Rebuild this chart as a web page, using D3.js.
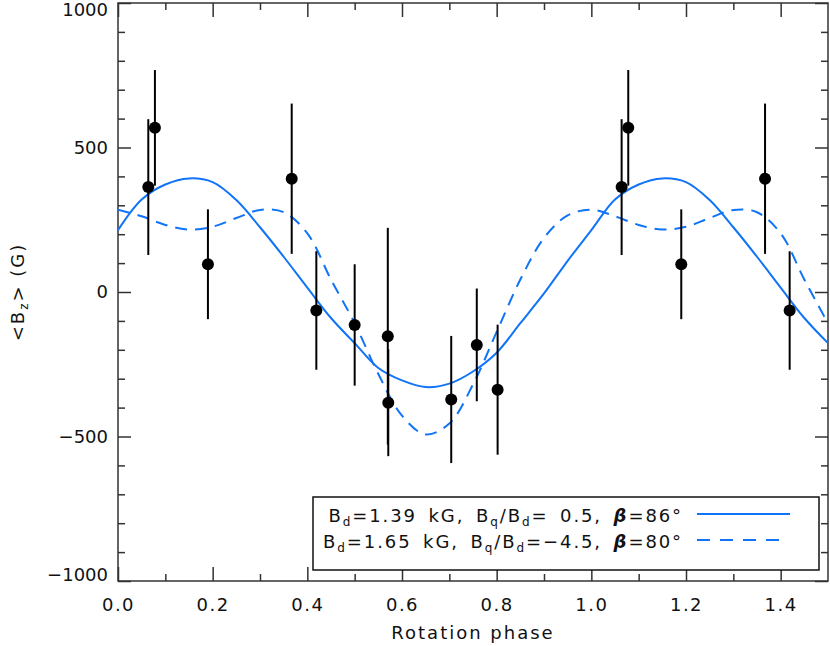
<!DOCTYPE html>
<html>
<head>
<meta charset="utf-8">
<script src="https://cdn.jsdelivr.net/npm/d3@7"></script>
<style>
    body { margin: 0; background: #fff; }
    svg { display: block; font-family: 'DejaVu Sans', sans-serif; }
    text { white-space: pre; }
</style>
</head>
<body>
<div id="chart"></div>
<script>
// observed <Bz> measurements (one rotation cycle, repeated when plotted)
const obsPhase = [0.064, 0.078, 0.190, 0.367, 0.419, 0.500, 0.570, 0.571, 0.704, 0.758, 0.802];
const obsBz = [363, 568, 96, 392, -64, -114, -153, -383, -372, -183, -338];
const obsErr = [235, 200, 190, 260, 205, 210, 375, 185, 220, 195, 225];

const modelPhase = d3.range(21).map(function (i) { return i / 20; });
const modelDipoleQuad = [214, 320, 372, 393, 380, 318, 224, 122, 15, -90, -177, -263, -306, -329, -317, -275, -210, -108, -5, 108, 214];
const modelStrongQuad = [285, 262, 232, 216, 226, 256, 284, 276, 203, 43, -108, -284, -428, -493, -455, -320, -138, 43, 187, 265, 285];

const xTicks = [0, 0.2, 0.4, 0.6, 0.8, 1.0, 1.2, 1.4];
const yTicks = [-1000, -500, 0, 500, 1000];

(function () {
    'use strict';

    const W = 830, H = 646;
    const margin = { top: 3, right: 2, bottom: 65, left: 118 };
    const width = W - margin.left - margin.right;
    const height = H - margin.top - margin.bottom;
    const BLUE = '#1174f7';
    const AXIS = '#333';
    const MAX_PHASE = 1.5;

    const svg = d3.select('#chart').append('svg').attr('width', W).attr('height', H);
    const g = svg.append('g').attr('transform', 'translate(' + margin.left + ',' + margin.top + ')');

    const x = d3.scaleLinear().domain([0, MAX_PHASE]).range([0, width]);
    const y = d3.scaleLinear().domain([-1000, 1000]).range([height, 0]);

    // repeat one cycle so the plot covers phase 0..1.5
    function unfold(phases, values, extra, limit) {
        const out = [];
        [0, 1].forEach(function (k) {
            phases.forEach(function (p, i) {
                const ph = p + k;
                if (k === 1 && p === 0) return;
                if (ph <= limit) {
                    out.push({ phase: ph, value: values[i], err: extra ? extra[i] : 0 });
                }
            });
        });
        return out;
    }

    // minor ticks first, so the majors sit on top
    const minorX = d3.range(15).map(function (i) { return i / 10; }).filter(function (d, i) { return i % 2 === 1; });
    const minorY = d3.range(-900, 1000, 100).filter(function (d) { return d % 500 !== 0; });

    function styleAxis(sel) {
        sel.select('.domain').remove();
        sel.selectAll('line').attr('stroke', AXIS).attr('stroke-width', 1.5);
        sel.selectAll('text').attr('fill', '#111').style('font-size', '18px').attr('font-family', 'DejaVu Sans, sans-serif');
    }

    g.append('g').attr('transform', 'translate(0,' + height + ')')
        .call(d3.axisBottom(x).tickValues(minorX).tickSizeInner(-7).tickSizeOuter(0).tickFormat(''))
        .call(styleAxis);
    g.append('g')
        .call(d3.axisTop(x).tickValues(minorX).tickSizeInner(-7).tickSizeOuter(0).tickFormat(''))
        .call(styleAxis);
    g.append('g')
        .call(d3.axisLeft(y).tickValues(minorY).tickSizeInner(-7).tickSizeOuter(0).tickFormat(''))
        .call(styleAxis);
    g.append('g').attr('transform', 'translate(' + width + ',0)')
        .call(d3.axisRight(y).tickValues(minorY).tickSizeInner(-7).tickSizeOuter(0).tickFormat(''))
        .call(styleAxis);

    g.append('g').attr('transform', 'translate(0,' + height + ')')
        .call(d3.axisBottom(x).tickValues(xTicks).tickSizeInner(-14).tickSizeOuter(0)
            .tickPadding(17).tickFormat(d3.format('.1f')))
        .call(styleAxis)
        .selectAll('text').style('letter-spacing', '1.5px');
    g.append('g')
        .call(d3.axisTop(x).tickValues(xTicks).tickSizeInner(-14).tickSizeOuter(0).tickFormat(''))
        .call(styleAxis);
    const yAxisG = g.append('g')
        .call(d3.axisLeft(y).tickValues(yTicks).tickSizeInner(-13).tickSizeOuter(0)
            .tickPadding(10).tickFormat(function (d) { return d < 0 ? '\u2212' + Math.abs(d) : d; }))
        .call(styleAxis);
    g.append('g').attr('transform', 'translate(' + width + ',0)')
        .call(d3.axisRight(y).tickValues(yTicks).tickSizeInner(-13).tickSizeOuter(0).tickFormat(''))
        .call(styleAxis);

    // end labels are nudged inside the figure, as in the original
    yAxisG.selectAll('.tick').filter(function (d) { return d === 1000; }).select('text').attr('y', 7);
    yAxisG.selectAll('.tick').filter(function (d) { return d === -1000; }).select('text').attr('y', -6);

    g.append('rect').attr('width', width).attr('height', height)
        .attr('fill', 'none').attr('stroke', AXIS).attr('stroke-width', 1.5);

    // clip the model curves to the frame
    svg.append('defs').append('clipPath').attr('id', 'plot-clip')
        .append('rect').attr('width', width).attr('height', height);

    const line = d3.line()
        .x(function (d) { return x(d.phase); })
        .y(function (d) { return y(d.value); })
        .curve(d3.curveCatmullRom.alpha(0.5));

    const curves = g.append('g').attr('clip-path', 'url(#plot-clip)');
    curves.append('path')
        .datum(unfold(modelPhase, modelDipoleQuad, null, MAX_PHASE))
        .attr('d', line).attr('fill', 'none').attr('stroke', BLUE).attr('stroke-width', 2);
    curves.append('path')
        .datum(unfold(modelPhase, modelStrongQuad, null, MAX_PHASE))
        .attr('d', line).attr('fill', 'none').attr('stroke', BLUE).attr('stroke-width', 2)
        .attr('stroke-dasharray', '12,8');

    // the point at exactly 1.5 sits on the frame and is not shown
    const obs = unfold(obsPhase, obsBz, obsErr, MAX_PHASE - 0.01);
    const points = g.append('g').selectAll('.obs').data(obs).enter().append('g').classed('obs', true)
        .attr('transform', function (d) { return 'translate(' + x(d.phase) + ',0)'; });
    points.append('line')
        .attr('y1', function (d) { return y(d.value + d.err); })
        .attr('y2', function (d) { return y(d.value - d.err); })
        .attr('stroke', '#000').attr('stroke-width', 2);
    points.append('circle')
        .attr('cy', function (d) { return y(d.value); })
        .attr('r', 6).attr('fill', '#000');

    // legend
    const legend = svg.append('g');
    legend.append('rect').attr('x', 313).attr('y', 497).attr('width', 506).attr('height', 73)
        .attr('fill', '#fff').attr('stroke', '#111').attr('stroke-width', 1.5);

    const legendRows = [
        { bd: '1.39', q: ' 0.5', beta: '86', dash: null, y: 522 },
        { bd: '1.65', q: '\u22124.5', beta: '80', dash: '13,10', y: 548 }
    ];

    legendRows.forEach(function (r) {
        const t = legend.append('text').attr('x', 683).attr('y', r.y)
            .attr('text-anchor', 'end').style('font-size', '18px').attr('fill', '#111')
            .style('letter-spacing', '1.9px').style('word-spacing', '4px');
        t.append('tspan').text('B');
        t.append('tspan').text('d').style('font-size', '12px').attr('dy', 4);
        t.append('tspan').text('=' + r.bd + ' kG, B').attr('dy', -4);
        t.append('tspan').text('q').style('font-size', '12px').attr('dy', 4);
        t.append('tspan').text('/B').attr('dy', -4);
        t.append('tspan').text('d').style('font-size', '12px').attr('dy', 4);
        t.append('tspan').text('=' + r.q + ', ').attr('dy', -4);
        t.append('tspan').text('\u03b2').style('font-weight', 'bold').style('font-style', 'italic');
        t.append('tspan').text('=' + r.beta + '\u00b0');

        legend.append('line')
            .attr('x1', 697).attr('x2', r.dash ? 780 : 790)
            .attr('y1', r.y - 8).attr('y2', r.y - 8)
            .attr('stroke', BLUE).attr('stroke-width', 2)
            .attr('stroke-dasharray', r.dash);
    });

    // axis titles
    svg.append('text').attr('x', margin.left + x(0.75)).attr('y', 639)
        .attr('text-anchor', 'middle').style('font-size', '18px').attr('fill', '#111')
        .style('letter-spacing', '2px')
        .text('Rotation phase');

    const yTitle = svg.append('text')
        .attr('transform', 'translate(24,' + (margin.top + y(0)) + ') rotate(-90)')
        .attr('text-anchor', 'middle').style('font-size', '18px').attr('fill', '#111')
        .style('letter-spacing', '2px');
    yTitle.append('tspan').text('<B');
    yTitle.append('tspan').text('z').style('font-size', '12px').attr('dy', 4);
    yTitle.append('tspan').text('> (G)').attr('dy', -4);
}());
</script>
</body>
</html>
